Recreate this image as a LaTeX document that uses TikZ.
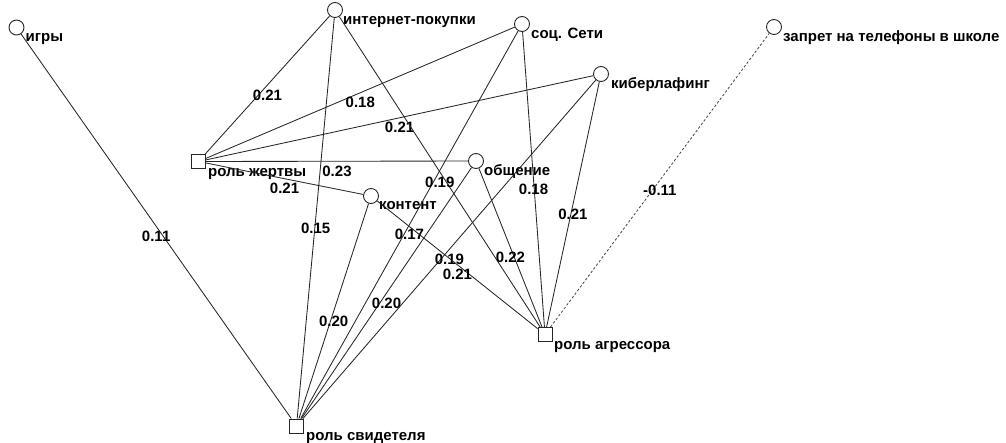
\documentclass[tikz,border=0pt]{standalone}
\usepackage{fontspec}
\setmainfont{Liberation Sans}
\begin{document}
\begin{tikzpicture}[x=1pt,y=-1pt,
 circ/.style={circle,draw=black!85,line width=0.9pt,minimum size=15pt,inner sep=0pt},
 sq/.style={rectangle,draw=black!85,line width=0.9pt,minimum size=14pt,inner sep=0pt},
 txt/.style={font=\bfseries\fontsize{15}{18}\selectfont, anchor=base west, inner sep=0pt},
 edge/.style={draw=black!85,line width=0.85pt},
 neg/.style={draw=black!70,line width=0.85pt,dash pattern=on 2.5pt off 2pt},
 w/.style={font=\bfseries\fontsize{15}{18}\selectfont, midway, yshift=-10pt, inner sep=0pt}]
\useasboundingbox (0,0) rectangle (1006,442);
% nodes
\node[circ] (igry) at (16.5,27.5) {};
\node[circ] (inet) at (335,10) {};
\node[circ] (soc) at (522,24) {};
\node[circ] (kiber) at (601,74) {};
\node[circ] (zapret) at (774,27) {};
\node[circ] (obsh) at (476,161) {};
\node[circ] (kontent) at (371,196) {};
\node[sq] (zhertva) at (198.5,161.5) {};
\node[sq] (agr) at (545,334.5) {};
\node[sq] (svid) at (296.5,426) {};
% node texts
\node[txt] (igry-t) at ([shift={(9,14)}]igry.center) {игры};
\node[txt] (inet-t) at ([shift={(8,14)}]inet.center) {интернет-покупки};
\node[txt] (soc-t) at ([shift={(9,14)}]soc.center) {соц. Сети};
\node[txt] (kiber-t) at ([shift={(10,14)}]kiber.center) {киберлафинг};
\node[txt] (zapret-t) at ([shift={(9,14.5)}]zapret.center) {запрет на телефоны в школе};
\node[txt] (obsh-t) at ([shift={(8,14.5)}]obsh.center) {общение};
\node[txt] (kontent-t) at ([shift={(8,13)}]kontent.center) {контент};
\node[txt] (zhertva-t) at ([shift={(9.5,14.5)}]zhertva.center) {роль жертвы};
\node[txt] (agr-t) at ([shift={(9,14.5)}]agr.center) {роль агрессора};
\node[txt] (svid-t) at ([shift={(9.5,14.5)}]svid.center) {роль свидетеля};
% edges
\draw[edge] (zhertva) -- node[w]{0.21} (inet);
\draw[edge] (zhertva) -- node[w]{0.18} (soc);
\draw[edge] (zhertva) -- node[w]{0.21} (kiber);
\draw[edge] (zhertva) -- node[w]{0.23} (obsh);
\draw[edge] (zhertva) -- node[w]{0.21} (kontent);
\draw[edge] (svid) -- node[w]{0.11} (igry);
\draw[edge] (svid) -- node[w]{0.15} (inet);
\draw[edge] (svid) -- node[w]{0.20} (kontent);
\draw[edge] (svid) -- node[w]{0.17} (soc);
\draw[edge] (svid) -- node[w]{0.20} (obsh);
\draw[edge] (svid) -- node[w]{0.19} (kiber);
\draw[edge] (agr) -- node[w]{0.19} (inet);
\draw[edge] (agr) -- node[w]{0.21} (kontent);
\draw[edge] (agr) -- node[w]{0.22} (obsh);
\draw[edge] (agr) -- node[w]{0.18} (soc);
\draw[edge] (agr) -- node[w]{0.21} (kiber);
\draw[neg] (agr) -- node[w]{-0.11} (zapret);
\end{tikzpicture}
\end{document}
